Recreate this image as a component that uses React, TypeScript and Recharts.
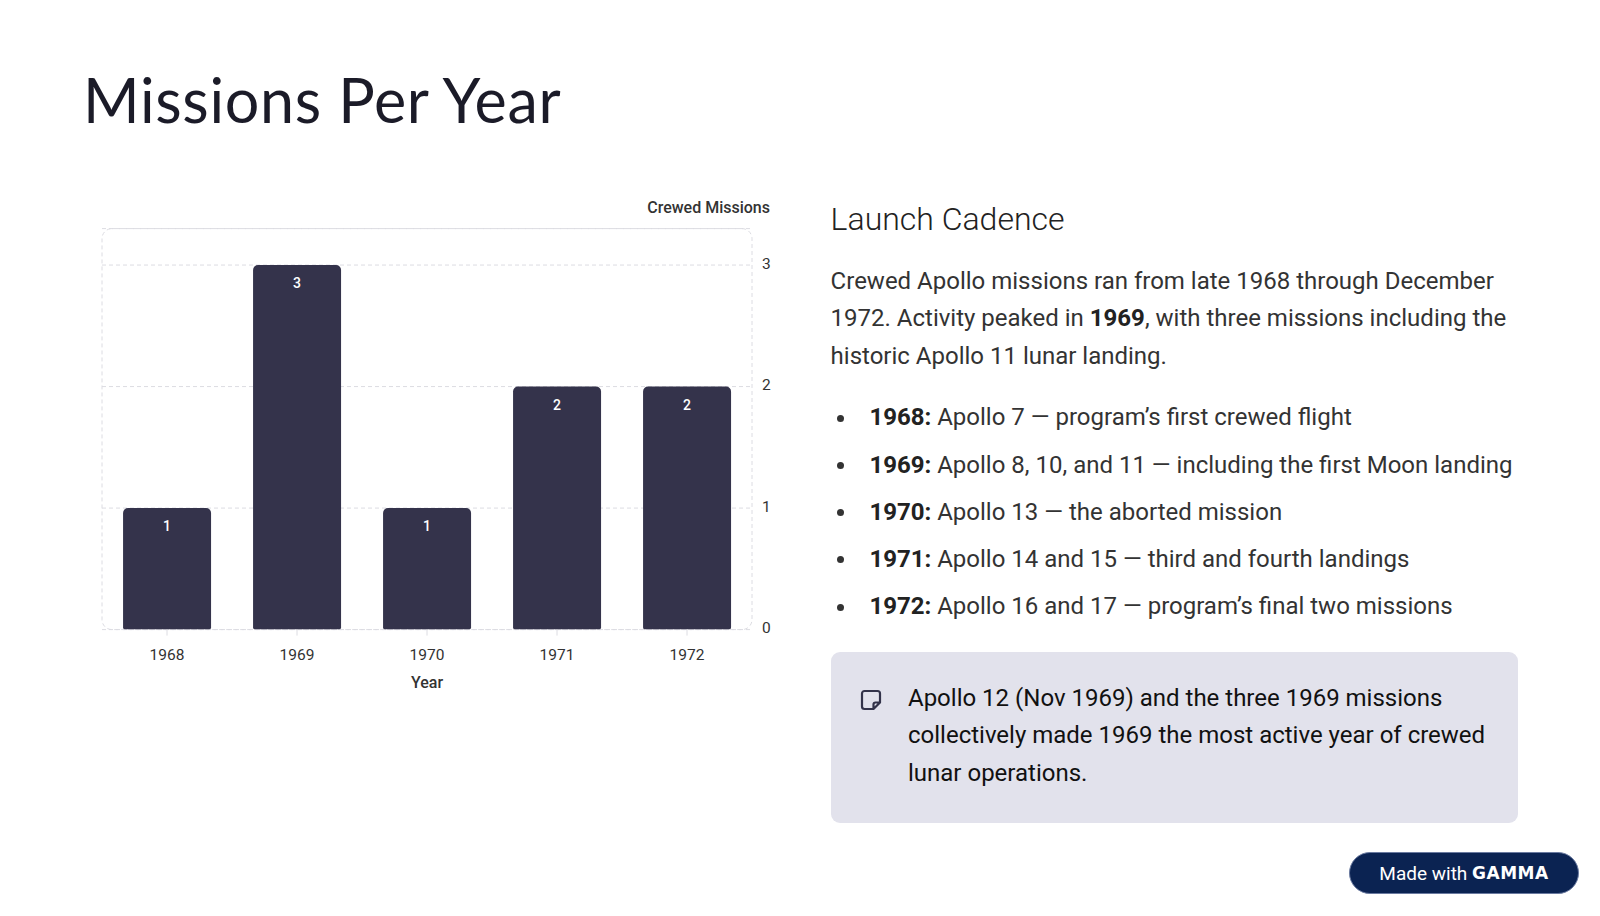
import React from 'react';
import { BarChart, Bar, XAxis, YAxis, CartesianGrid, LabelList, usePlotArea } from 'recharts';

const years = ['1968', '1969', '1970', '1971', '1972'];
const missions = [1, 3, 1, 2, 2];
const yTicks = [0, 1, 2, 3];

const data = years.map((y, i) => ({ year: y, missions: missions[i] }));

const BAR = '#34334b';
const FONT = 'Roboto, "Noto Sans", sans-serif';

function PlotBorder() {
  const area = usePlotArea ? usePlotArea() : null;
  if (!area) return null;
  return (
    <rect
      x={area.x}
      y={area.y}
      width={area.width}
      height={area.height}
      rx={10}
      ry={10}
      fill="none"
      stroke="#dcdce2"
      strokeDasharray="4 3"
      strokeWidth={1}
    />
  );
}

const bullets = [
  ['1968:', ' Apollo 7 — program\u2019s first crewed flight'],
  ['1969:', ' Apollo 8, 10, and 11 — including the first Moon landing'],
  ['1970:', ' Apollo 13 — the aborted mission'],
  ['1971:', ' Apollo 14 and 15 — third and fourth landings'],
  ['1972:', ' Apollo 16 and 17 — program\u2019s final two missions'],
];

const BODY = 24;
const LH = 37.8;

export default function App() {
  return (
    <div style={{ position: 'absolute', left: 0, top: 0, width: 1600, height: 916, background: '#fff', fontFamily: FONT, overflow: 'hidden' }}>
      <div style={{ position: 'absolute', left: 83, top: 63, fontFamily: 'Lato, "Open Sans", sans-serif', fontWeight: 400, fontSize: 61, color: '#1b1b28', letterSpacing: 0.7, whiteSpace: 'nowrap' }}>
        Missions Per Year
      </div>

      <div style={{ position: 'absolute', left: 80, top: 180 }}>
        <BarChart width={720} height={530} data={data} margin={{ top: 48.6, right: 8, left: 22, bottom: 22.4 }} barCategoryGap="16.2%">
          <CartesianGrid vertical={false} stroke="#dcdce2" strokeDasharray="4 3" />
          <PlotBorder />
          <XAxis
            dataKey="year"
            axisLine={false}
            tickLine={{ stroke: '#dcdce2' }}
            tickSize={6}
            tickMargin={13.5}
            height={58}
            tick={{ fontSize: 15.5, fill: '#333', fontFamily: FONT }}
            label={{ value: 'Year', position: 'insideBottom', offset: 0, fontSize: 16, fill: '#333', fontFamily: FONT, fontWeight: 500 }}
          />
          <YAxis
            orientation="right"
            domain={[0, 3.3]}
            ticks={yTicks}
            allowDataOverflow
            axisLine={false}
            tickLine={false}
            tickSize={6}
            tickMargin={4}
            width={40}
            tick={{ fontSize: 15.5, fill: '#333', fontFamily: FONT, dy: -2 }}
            label={{
              value: 'Crewed Missions',
              content: (p: any) => (
                <text x={p.viewBox.x + 18} y={p.viewBox.y - 19.6} textAnchor="end" dominantBaseline="middle" fontSize={16} fill="#333" fontFamily={FONT} fontWeight={500}>
                  Crewed Missions
                </text>
              ),
            }}
          />
          <Bar dataKey="missions" fill={BAR} radius={[5, 5, 2, 2]} isAnimationActive={false}>
            <LabelList dataKey="missions" position="insideTop" offset={13} fill="#fff" fontSize={14} fontFamily={FONT} fontWeight={500} />
          </Bar>
        </BarChart>
      </div>

      <div style={{ position: 'absolute', left: 830.6, top: 200.4, fontSize: 32, fontWeight: 300, color: '#222', whiteSpace: 'nowrap', lineHeight: 'normal' }}>Launch Cadence</div>

      <div style={{ position: 'absolute', left: 830.6, top: 262.5, width: 690, fontSize: BODY, lineHeight: `${LH}px`, color: '#333' }}>
        Crewed Apollo missions ran from late 1968 through December 1972. Activity peaked in <b style={{ color: '#222' }}>1969</b>, with three missions including the historic Apollo 11 lunar landing.
      </div>

      <div style={{ position: 'absolute', left: 830.6, top: 399.4 }}>
        {bullets.map((b, i) => (
          <div key={i} style={{ position: 'absolute', left: 0, top: i * 47.2, whiteSpace: 'nowrap', fontSize: BODY, lineHeight: `${LH}px`, color: '#333' }}>
            <span style={{ position: 'absolute', left: 6, top: 15.4, width: 7, height: 7, borderRadius: 4, background: '#333' }} />
            <span style={{ position: 'absolute', left: 38.8 }}>
              <b style={{ color: '#222' }}>{b[0]}</b>{b[1]}
            </span>
          </div>
        ))}
      </div>

      <div style={{ position: 'absolute', left: 830.6, top: 652, width: 687, height: 170.5, borderRadius: 9, background: '#e2e2ec' }}>
        <svg style={{ position: 'absolute', left: 29, top: 37 }} width={22} height={22} viewBox="0 0 22 22">
          <path d="M4.5 2 H17.5 a2.5 2.5 0 0 1 2.5 2.5 V13.5 L13.5 20 H4.5 a2.5 2.5 0 0 1 -2.5 -2.5 V4.5 a2.5 2.5 0 0 1 2.5 -2.5 Z M20 13.5 H15.5 a2 2 0 0 0 -2 2 V20" fill="none" stroke="#33334a" strokeWidth={2.2} strokeLinejoin="round" />
        </svg>
        <div style={{ position: 'absolute', left: 77.4, top: 27.5, width: 600, fontSize: BODY, lineHeight: `${LH}px`, color: '#111' }}>
          Apollo 12 (Nov 1969) and the three 1969 missions collectively made 1969 the most active year of crewed lunar operations.
        </div>
      </div>

      <div style={{ position: 'absolute', left: 1349, top: 852, width: 230, height: 42, boxSizing: 'border-box', borderRadius: 21, background: '#0b2352', border: '1.5px solid #6a7aa0', display: 'flex', alignItems: 'center', justifyContent: 'center', color: '#fff', fontSize: 19, whiteSpace: 'nowrap' }}>
        <span style={{ fontWeight: 400 }}>Made with&nbsp;</span>
        <span style={{ fontWeight: 900, letterSpacing: 0.5, fontFamily: '"DejaVu Sans", sans-serif', fontSize: 17 }}>GAMMA</span>
      </div>
    </div>
  );
}
